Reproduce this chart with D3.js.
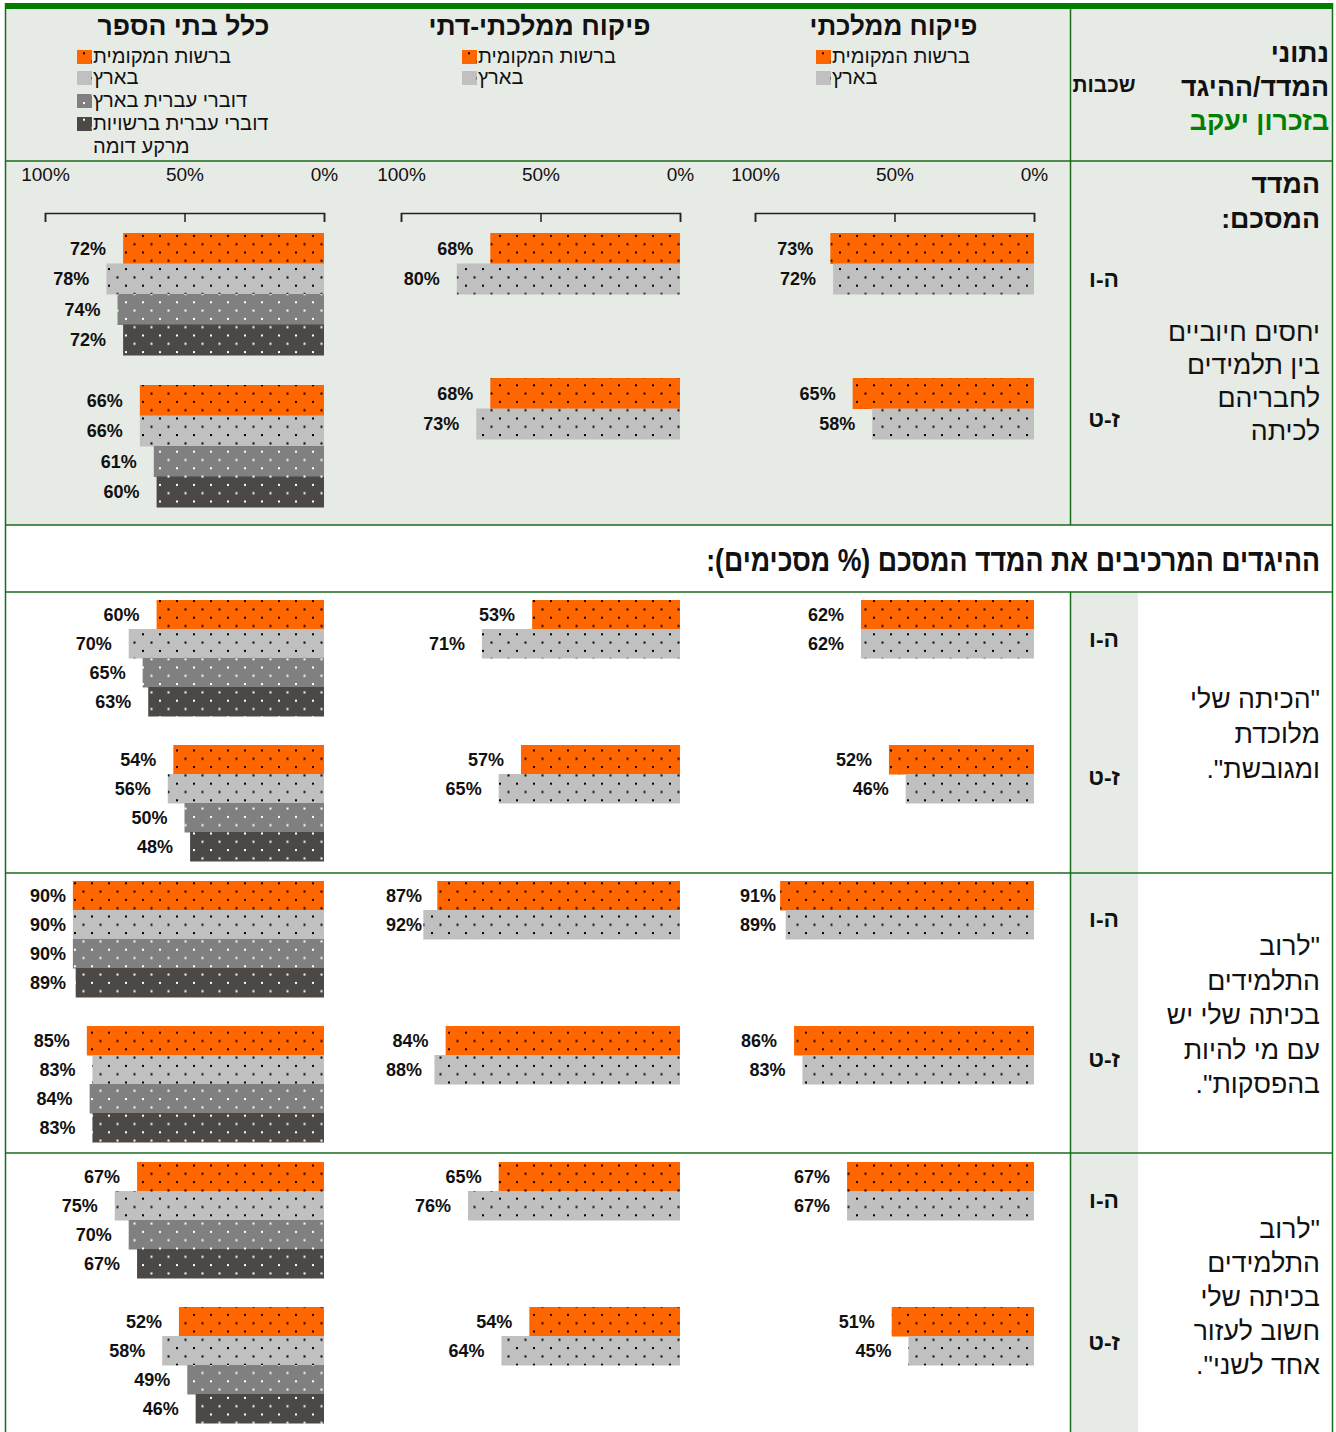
<!DOCTYPE html>
<html>
<head>
<meta charset="utf-8">
<script src="https://cdn.jsdelivr.net/npm/d3@7"></script>
<style>
  body { margin: 0; background: #fff; }
</style>
</head>
<body>
<div id="chart"></div>
<script>
// ---- data ----
var panelTitles = ["כלל בתי הספר", "פיקוח ממלכתי-דתי", "פיקוח ממלכתי"];
var seriesNames = ["ברשות המקומית", "בארץ", "דוברי עברית בארץ", "דוברי עברית ברשויות מרקע דומה"];
var grades = ["ה-ו", "ז-ט"];
var tickValues = [100, 50, 0];

// rows = grades (ה-ו, ז-ט), cols = series
var indexAll = [[72, 78, 74, 72], [66, 66, 61, 60]];
var indexReligious = [[68, 80], [68, 73]];
var indexState = [[73, 72], [65, 58]];

var cohesiveAll = [[60, 70, 65, 63], [54, 56, 50, 48]];
var cohesiveReligious = [[53, 71], [57, 65]];
var cohesiveState = [[62, 62], [52, 46]];

var breakAll = [[90, 90, 90, 89], [85, 83, 84, 83]];
var breakReligious = [[87, 92], [84, 88]];
var breakState = [[91, 89], [86, 83]];

var helpAll = [[67, 75, 70, 67], [52, 58, 49, 46]];
var helpReligious = [[65, 76], [54, 64]];
var helpState = [[67, 67], [51, 45]];

var headerLines = ["נתוני", "המדד/ההיגד", "בזכרון יעקב"];
var gradeHeader = "שכבות";
var indexTitle = ["המדד", "המסכם:"];
var statementsTitle = "ההיגדים המרכיבים את המדד המסכם (% מסכימים):";
var rowLabels = [
  ["יחסים חיוביים", "בין תלמידים", "לחבריהם", "לכיתה"],
  ['"הכיתה שלי', "מלוכדת", 'ומגובשת".'],
  ['"לרוב', "התלמידים", "בכיתה שלי יש", "עם מי להיות", 'בהפסקות".'],
  ['"לרוב', "התלמידים", "בכיתה שלי", "חשוב לעזור", 'אחד לשני".']
];

// ---- layout ----
var W = 1336, H = 1432;
var lineColor = "#1a6b1a", shade = "#e7ebe5";
var seriesFill = ["#ff6600", "#c0c0c0", "#808080", "#4c4845"];
var dotFill = ["#000", "#000", "#fff", "#fff"];
var panelRange = [[324, 45], [680, 401], [1034, 755]];   // 0% .. 100%
var titleWidth = [172, 222, 168];
var legendX = [77, 462, 816];
var heb = "'Liberation Sans', Arial, sans-serif";
var latin = "'Liberation Sans', Arial, sans-serif";

var sections = [
  { data: [indexAll, indexReligious, indexState], tops: [[233, 385], [233, 378], [233, 378]], barH: 30.5,
    gradeY: [287, 427], labelY: 341, labelStep: 33 },
  { data: [cohesiveAll, cohesiveReligious, cohesiveState], tops: [[600, 745], [600, 745], [600, 745]], barH: 29,
    gradeY: [647, 785], labelY: 708, labelStep: 35 },
  { data: [breakAll, breakReligious, breakState], tops: [[881, 1026], [881, 1026], [881, 1026]], barH: 29,
    gradeY: [927, 1067], labelY: 955, labelStep: 34.5 },
  { data: [helpAll, helpReligious, helpState], tops: [[1162, 1307], [1162, 1307], [1162, 1307]], barH: 29,
    gradeY: [1208, 1350], labelY: 1238, labelStep: 34 }
];

var svg = d3.select("#chart").append("svg")
    .attr("width", W)
    .attr("height", H)
    .style("font-family", heb);

// font size that makes a sample string as wide as it is in the picture
function sizeFor(text, family, weight, width) {
  var t = svg.append("text").attr("font-family", family).attr("font-weight", weight)
      .attr("font-size", 20).text(text);
  var w = t.node().getComputedTextLength();
  t.remove();
  return 20 * width / w;
}
var fsLegend = sizeFor("ברשות המקומית", heb, "normal", 138);
var fsLabel = sizeFor("יחסים חיוביים", heb, "normal", 152);
var fsHeader = sizeFor("המדד/ההיגד", heb, "bold", 148);
var fsGrade = sizeFor("ה-ו", heb, "bold", 30);
var fsGradeHead = sizeFor(gradeHeader, heb, "bold", 63);
var squeeze = 0.84;   // narrow look of the statements heading
var fsStatements = sizeFor(statementsTitle, heb, "bold", 614 / squeeze);

// dotted fills
var defs = svg.append("defs");
seriesFill.forEach(function(c, i) {
  var p = defs.append("pattern")
      .attr("id", "pat" + i)
      .attr("patternUnits", "userSpaceOnUse")
      .attr("width", 17).attr("height", 16.6)
      .attr("x", 6).attr("y", 2.5);
  p.append("rect").attr("width", 17).attr("height", 16.6).attr("fill", c);
  p.append("rect").attr("x", 0).attr("y", 0).attr("width", 2).attr("height", 2).attr("fill", dotFill[i]);
  p.append("rect").attr("x", 8.5).attr("y", 8.3).attr("width", 2).attr("height", 2).attr("fill", dotFill[i]);
});

// backgrounds
svg.append("rect").attr("x", 5).attr("y", 8).attr("width", 1327).attr("height", 517).attr("fill", shade);
svg.append("rect").attr("x", 1071).attr("y", 592).attr("width", 67).attr("height", H - 592).attr("fill", shade);

// grid lines
function hline(y) {
  svg.append("line").attr("x1", 5).attr("x2", 1333).attr("y1", y).attr("y2", y)
      .attr("stroke", lineColor).attr("stroke-width", 1.5);
}
function vline(x, y1, y2) {
  svg.append("line").attr("x1", x).attr("x2", x).attr("y1", y1).attr("y2", y2)
      .attr("stroke", lineColor).attr("stroke-width", 1.5);
}
[161, 525, 592, 873, 1153].forEach(hline);
vline(5.5, 3, H);
vline(1332.5, 3, H);
vline(1070.5, 8, 525);
vline(1070.5, 592, H);
svg.append("rect").attr("x", 5).attr("y", 3).attr("width", 1328).attr("height", 6).attr("fill", "#007d00");

function rtl(sel) {
  return sel.style("direction", "rtl").style("unicode-bidi", "embed");
}

// right column header
headerLines.forEach(function(t, i) {
  rtl(svg.append("text"))
      .attr("x", 1329).attr("y", 62 + i * 34)
      .attr("text-anchor", "start")
      .attr("font-weight", "bold").attr("font-size", fsHeader)
      .attr("fill", i === 2 ? "#008000" : "#111")
      .text(t);
});
rtl(svg.append("text"))
    .attr("x", 1104).attr("y", 92).attr("text-anchor", "middle")
    .attr("font-weight", "bold").attr("font-size", fsGradeHead).attr("fill", "#111")
    .text(gradeHeader);

// panel titles + legends
panelTitles.forEach(function(title, pi) {
  var x = d3.scaleLinear().domain([0, 100]).range(panelRange[pi]);
  rtl(svg.append("text"))
      .attr("x", x(50) - 1).attr("y", 35).attr("text-anchor", "middle")
      .attr("font-weight", "bold").attr("font-size", sizeFor(title, heb, "bold", titleWidth[pi]))
      .attr("fill", "#111")
      .text(title);

  var n = sections[0].data[pi][0].length;
  var lg = svg.append("g").attr("transform", "translate(" + legendX[pi] + ",0)");
  var rowY = [57, 78, 101, 124];
  seriesNames.slice(0, n).forEach(function(name, si) {
    lg.append("rect")
        .attr("x", 0).attr("y", rowY[si] - 7)
        .attr("width", 15).attr("height", 14)
        .attr("fill", "url(#pat" + si + ")");
    var words = name.split(" ");
    var lines = si === 3 ? [words.slice(0, 3).join(" "), words.slice(3).join(" ")] : [name];
    lines.forEach(function(l, li) {
      rtl(lg.append("text"))
          .attr("x", 16).attr("y", rowY[si] + 6 + li * 23)
          .attr("text-anchor", "end")
          .attr("font-size", fsLegend).attr("fill", "#111")
          .text(l);
    });
  });

  // axis (top section only)
  var axis = d3.axisTop(x)
      .tickValues(tickValues)
      .tickFormat(function(d) { return d + "%"; })
      .tickSizeInner(-9)
      .tickSizeOuter(-9)
      .tickPadding(32);
  var ag = svg.append("g").attr("transform", "translate(0,213)").call(axis);
  ag.attr("font-family", latin).attr("font-size", 19);
  ag.selectAll("path, line").attr("stroke", "#222").attr("stroke-width", 1.5);
  ag.selectAll("text").attr("fill", "#111");
});

// bars
sections.forEach(function(sec) {
  sec.data.forEach(function(values, pi) {
    var x = d3.scaleLinear().domain([0, 100]).range(panelRange[pi]);
    var y = d3.scaleOrdinal().domain(grades).range(sec.tops[pi]);
    var n = values[0].length;
    var ys = d3.scaleBand().domain(d3.range(n)).range([0, n * sec.barH]);
    var flat = [];
    values.forEach(function(row, gi) {
      row.forEach(function(v, si) { flat.push({ grade: grades[gi], s: si, v: v }); });
    });
    var g = svg.append("g");
    g.selectAll("rect").data(flat).enter().append("rect")
        .attr("x", function(d) { return x(d.v); })
        .attr("y", function(d) { return y(d.grade) + ys(d.s); })
        .attr("width", function(d) { return x(0) - x(d.v); })
        .attr("height", ys.bandwidth() + 0.5)
        .attr("fill", function(d) { return "url(#pat" + d.s + ")"; });
    g.selectAll("text").data(flat).enter().append("text")
        .attr("font-family", latin).attr("font-weight", "bold").attr("font-size", 18)
        .attr("fill", "#111")
        .attr("text-anchor", "end")
        .attr("y", function(d) { return y(d.grade) + ys(d.s) + ys.bandwidth() / 2; })
        .attr("dy", "0.36em")
        .text(function(d) { return d.v + "%"; })
        .attr("x", function(d) {
          var w = this.getComputedTextLength();
          return Math.max(x(d.v) - 17, x(100) - 15 + w);
        });
  });

  grades.forEach(function(gr, gi) {
    rtl(svg.append("text"))
        .attr("x", 1104).attr("y", sec.gradeY[gi]).attr("text-anchor", "middle")
        .attr("font-weight", "bold").attr("font-size", fsGrade).attr("fill", "#111")
        .text(gr);
  });
});

// row labels
indexTitle.forEach(function(t, i) {
  rtl(svg.append("text"))
      .attr("x", 1320).attr("y", 193 + i * 35).attr("text-anchor", "start")
      .attr("font-weight", "bold").attr("font-size", fsHeader).attr("fill", "#111")
      .text(t);
});
rowLabels.forEach(function(lines, ri) {
  lines.forEach(function(t, li) {
    rtl(svg.append("text"))
        .attr("x", 1320).attr("y", sections[ri].labelY + li * sections[ri].labelStep)
        .attr("text-anchor", "start")
        .attr("font-size", fsLabel).attr("fill", "#111")
        .text(t);
  });
});

rtl(svg.append("text"))
    .attr("transform", "translate(1320,571) scale(" + squeeze + ",1)")
    .attr("text-anchor", "start")
    .attr("font-weight", "bold").attr("font-size", fsStatements).attr("fill", "#111")
    .text(statementsTitle);
</script>
</body>
</html>
